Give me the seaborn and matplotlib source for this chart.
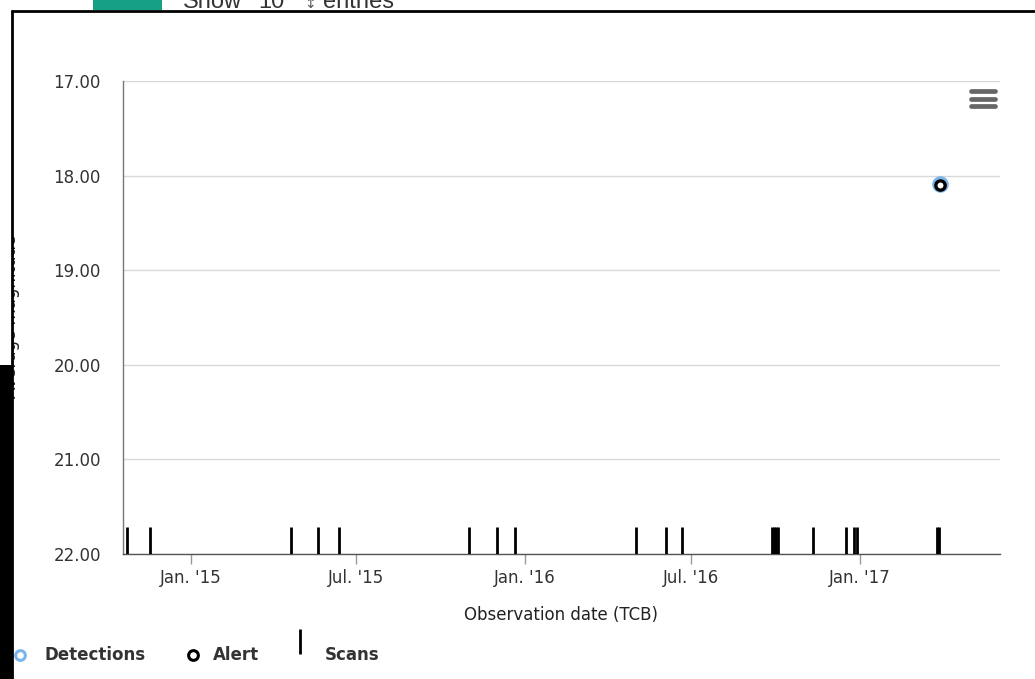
import matplotlib
matplotlib.use("Agg")
import matplotlib.pyplot as plt
import matplotlib.dates as mdates
from matplotlib.lines import Line2D
from matplotlib.patches import Rectangle
from matplotlib.ticker import FuncFormatter
import pandas as pd
import seaborn as sns

# ---- light-curve data -------------------------------------------------------
detection_dates = ["2017-03-30"]
detection_mags = [18.09]

alert_dates = ["2017-03-30"]
alert_mags = [18.10]

scan_dates = [
    "2014-10-23", "2014-11-18",
    "2015-04-21", "2015-05-20", "2015-06-12",
    "2015-11-01", "2015-12-02", "2015-12-21",
    "2016-05-01", "2016-06-03", "2016-06-21",
    "2016-09-27", "2016-09-29", "2016-10-01", "2016-10-03",
    "2016-11-11", "2016-12-17", "2016-12-26", "2016-12-29",
    "2017-03-26", "2017-03-28",
]
SCAN_TOP_MAG = 21.715  # scans are drawn as short bars rising from the axis floor

date_range = ["2014-10-19", "2017-06-03"]
mag_range = [17.0, 22.0]
mag_ticks = [17, 18, 19, 20, 21, 22]

det = pd.DataFrame({"date": pd.to_datetime(detection_dates), "mag": detection_mags})
alr = pd.DataFrame({"date": pd.to_datetime(alert_dates), "mag": alert_mags})
scans = pd.to_datetime(scan_dates)

# ---- styling ----------------------------------------------------------------
sns.set_style("white")
plt.rcParams["font.family"] = ["DejaVu Sans"]

W, H = 1035, 679
fig = plt.figure(figsize=(W / 100, H / 100), dpi=100)


def fx(px):
    return px / W


def fy(py):
    return 1 - py / H


ax = fig.add_axes([fx(123), fy(554), fx(1000) - fx(123), fy(81) - fy(554)])

# detections and alert markers
sns.scatterplot(data=det, x="date", y="mag", ax=ax, marker="o", s=95,
                facecolor="white", edgecolor="#7cb5ec", linewidth=2.2,
                zorder=4, legend=False)
sns.scatterplot(data=alr, x="date", y="mag", ax=ax, marker="o", s=45,
                facecolor="white", edgecolor="black", linewidth=2.4,
                zorder=5, legend=False)

# scan epochs
ax.vlines(scans, SCAN_TOP_MAG, mag_range[1], colors="black", linewidth=2.0,
          zorder=3)

ax.set_xlim(pd.to_datetime(date_range[0]), pd.to_datetime(date_range[1]))
ax.set_ylim(mag_range[1], mag_range[0])
ax.set_yticks(mag_ticks)
ax.yaxis.set_major_formatter(FuncFormatter(lambda v, _: f"{v:.2f}"))
ax.grid(axis="y", color="#d9d9d9", linewidth=1)
ax.grid(axis="x", visible=False)
ax.set_axisbelow(True)

ax.xaxis.set_major_locator(mdates.MonthLocator(bymonth=[1, 7]))
ax.xaxis.set_major_formatter(
    FuncFormatter(lambda v, _: mdates.num2date(v).strftime("%b. '%y")))

for side in ("top", "right"):
    ax.spines[side].set_visible(False)
ax.spines["left"].set_color("#777777")
ax.spines["left"].set_linewidth(1.0)
ax.spines["bottom"].set_color("#555555")
ax.spines["bottom"].set_linewidth(1.0)

ax.tick_params(axis="y", length=0, pad=16, labelsize=12, labelcolor="#333333")
ax.tick_params(axis="x", direction="out", length=7, width=1, color="#999999",
               pad=4, labelsize=12, labelcolor="#333333", bottom=True)

ax.set_xlabel("Observation date (TCB)", fontsize=12, color="#222222",
              labelpad=13.5)
ax.set_ylabel("")

# y-axis title, clipped at the frame on the left
fig.text(fx(11), fy(316), "Average magnitude", rotation=90, fontsize=12,
         ha="center", va="center", color="#222222", zorder=1)

# export menu icon
for py in (91, 98.5, 106):
    fig.add_artist(Line2D([fx(971), fx(995)], [fy(py), fy(py)], color="#666666",
                          linewidth=3.4, solid_capstyle="round", zorder=6))

# legend
fig.add_artist(Line2D([fx(20)], [fy(655)], marker="o", markersize=7,
                      markerfacecolor="white", markeredgecolor="#7cb5ec",
                      markeredgewidth=2.2, linestyle="none"))
fig.text(fx(44), fy(655), "Detections", fontsize=12, fontweight="bold",
         color="#333333", va="center", ha="left")
fig.add_artist(Line2D([fx(193)], [fy(655)], marker="o", markersize=7,
                      markerfacecolor="white", markeredgecolor="black",
                      markeredgewidth=2.2, linestyle="none"))
fig.text(fx(213), fy(655), "Alert", fontsize=12, fontweight="bold",
         color="#333333", va="center", ha="left")
fig.add_artist(Line2D([fx(300), fx(300)], [fy(629), fy(654)], color="black",
                      linewidth=2, solid_capstyle="butt"))
fig.text(fx(325), fy(655), "Scans", fontsize=12, fontweight="bold",
         color="#333333", va="center", ha="left")

# surrounding page: frame, dark panel and the table controls above
fig.add_artist(Rectangle((0, fy(365)), fx(11.5), fy(10) - fy(365),
                         transform=fig.transFigure, facecolor="white",
                         edgecolor="none", zorder=8))
fig.add_artist(Rectangle((0, 0), fx(13), fy(365),
                         transform=fig.transFigure, facecolor="black",
                         edgecolor="none", zorder=8))
fig.add_artist(Line2D([fx(12), fx(12)], [fy(10), 0], color="black",
                      linewidth=2, solid_capstyle="butt", zorder=9))
fig.add_artist(Line2D([fx(11), 1], [fy(10.5), fy(10.5)], color="black",
                      linewidth=2, solid_capstyle="butt", zorder=9))
fig.add_artist(Rectangle((fx(93), fy(9.5)), fx(162) - fx(93), fy(0) - fy(9.5),
                         transform=fig.transFigure, facecolor="#16a085",
                         edgecolor="none", zorder=7))
for px, txt in ((183, "Show"), (258, "10"), (323, "entries")):
    fig.text(fx(px), fy(8), txt, fontsize=17, family="Liberation Sans",
             color="#333333", ha="left", va="baseline", zorder=6)
fig.text(fx(304), fy(8), "\u2195", fontsize=10, family="DejaVu Sans",
         color="#555555", ha="left", va="baseline", zorder=6)

fig.savefig("out.png", dpi=100)
